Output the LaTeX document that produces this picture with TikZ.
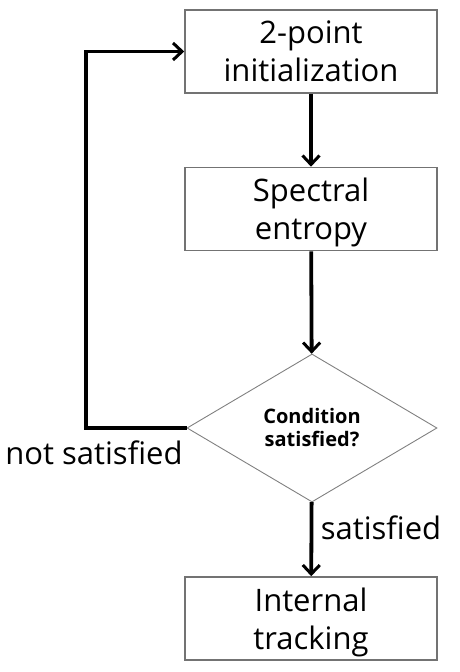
\documentclass[tikz,border=0pt]{standalone}
\usepackage{fontspec}
\setmainfont{Open Sans}
\usepackage{tikz}
\usetikzlibrary{shapes.geometric}
\usetikzlibrary{arrows.meta}

\begin{document}
\begin{tikzpicture}[x=1pt,y=1pt,
    procbox/.style={draw=black!55,line width=1.6pt,rectangle,minimum width=252pt,minimum height=83pt,
      inner sep=0pt,align=center,text depth=0pt,font=\fontsize{31}{38}\selectfont},
    testbox/.style={draw=black!50,line width=0.9pt,diamond,minimum width=250pt,minimum height=148pt,
      inner sep=0pt,align=center,font=\fontsize{20}{23}\selectfont\bfseries},
    flow/.style={line width=3.8pt,-{Straight Barb[length=9pt,width=17pt,line width=3pt]}},
    lbl/.style={font=\fontsize{31}{36}\selectfont,inner sep=0pt,anchor=base}]
  \useasboundingbox (0,0) rectangle (460,672);
  % boxes
  \node[procbox] (init) at (311,620.5) {2-point\\initialization};
  \node[procbox] (entropy) at (311,463) {Spectral\\entropy};
  \node[testbox] (cond) at (312,244) {Condition\\satisfied?};
  \node[procbox] (track) at (311,53.5) {Internal\\tracking};
  % arrows
  \draw[flow] (init) -- (entropy);
  \draw[flow] (entropy) -- (cond);
  \draw[flow] (cond) -- (track);
  % loop back
  \coordinate (lowcorner) at (86,244);
  \coordinate (topcorner) at (86,620.5);
  \draw[flow] (cond.west) -- (lowcorner) -- (topcorner) -- (init.west);
  % labels
  \node[lbl] (no) at (94,207) {not satisfied};
  \node[lbl] (yes) at (381,132) {satisfied};
\end{tikzpicture}
\end{document}
